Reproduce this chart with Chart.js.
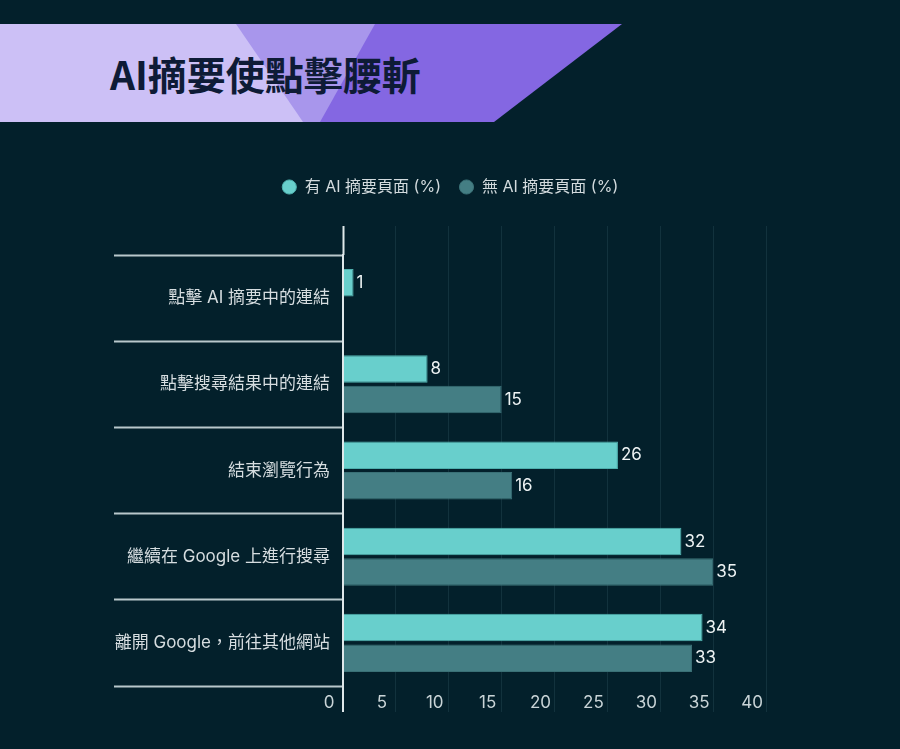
<!DOCTYPE html>
<html>
<head>
<meta charset="utf-8">
<script src="https://cdn.jsdelivr.net/npm/chart.js@4.4.1/dist/chart.umd.min.js"></script>
<style>
    html, body { margin: 0; padding: 0; background: #03202b; }
    #wrap { position: relative; width: 900px; height: 749px; overflow: hidden; }
    .banner { position: absolute; top: 24px; left: 0; width: 622px; height: 98px; }
    .banner div { position: absolute; top: 0; left: 0; width: 622px; height: 98px; }
    .b-dark { background: #8467e2; clip-path: polygon(0 0, 622px 0, 494px 98px, 0 98px); }
    .b-mid { background: #a896ec; clip-path: polygon(0 0, 375px 0, 320px 98px, 0 98px); }
    .b-light { background: #ccc0f6; clip-path: polygon(0 0, 236px 0, 303px 98px, 0 98px); }
    .banner h1 {
        position: absolute; left: 110px; top: 26px; margin: 0;
        font: bold 39px "Noto Sans CJK TC", "Noto Sans", sans-serif;
        color: #0e1b36; letter-spacing: 0; line-height: 46px;
    }
    canvas { position: absolute; top: 0; left: 0; }
</style>
</head>
<body>
<div id="wrap">
    <div class="banner">
        <div class="b-dark"></div>
        <div class="b-mid"></div>
        <div class="b-light"></div>
        <h1>AI摘要使點擊腰斬</h1>
    </div>
    <canvas id="chart" width="900" height="749"></canvas>
</div>
<script>
const categories = ['點擊 AI 摘要中的連結', '點擊搜尋結果中的連結', '結束瀏覽行為', '繼續在 Google 上進行搜尋', '離開 Google，前往其他網站'];
const withAI = [1, 8, 26, 32, 34];
const withoutAI = [null, 15, 16, 35, 33];
const seriesNames = ['有 AI 摘要頁面 (%)', '無 AI 摘要頁面 (%)'];
const xMax = 40;
const xStep = 5;

const fontFamily = 'Inter, "Noto Sans CJK TC", sans-serif';

// value labels at the end of each bar
const valueLabels = {
    id: 'valueLabels',
    afterDatasetsDraw(chart) {
        const ctx = chart.ctx;
        ctx.save();
        ctx.font = '17px ' + fontFamily;
        ctx.fillStyle = '#eef3f4';
        ctx.textAlign = 'left';
        ctx.textBaseline = 'middle';
        chart.data.datasets.forEach((ds, i) => {
            chart.getDatasetMeta(i).data.forEach((bar, j) => {
                if (ds.data[j] == null) return;
                ctx.fillText(ds.data[j], bar.x + 3, bar.y);
            });
        });
        ctx.restore();
    }
};

const zeroColor = (c) => (c.tick && c.tick.value === 0 ? '#dfe8ea' : '#12323d');
const zeroWidth = (c) => (c.tick && c.tick.value === 0 ? 2 : 1);

new Chart(document.getElementById('chart').getContext('2d'), {
    type: 'bar',
    data: {
        labels: categories,
        datasets: [
            {
                label: seriesNames[0],
                data: withAI,
                backgroundColor: '#68cfcc',
                borderColor: '#4fb0ae',
                borderWidth: 1,
                categoryPercentage: 0.71,
                barPercentage: 0.9,
            },
            {
                label: seriesNames[1],
                data: withoutAI,
                backgroundColor: '#447e84',
                borderColor: '#3a7076',
                borderWidth: 1,
                categoryPercentage: 0.71,
                barPercentage: 0.9,
            },
        ],
    },
    options: {
        indexAxis: 'y',
        responsive: false,
        animation: false,
        layout: { padding: { top: 161, left: 0, right: 0, bottom: 0 } },
        plugins: {
            legend: {
                position: 'top',
                labels: {
                    usePointStyle: true,
                    pointStyle: 'circle',
                    boxWidth: 15,
                    boxHeight: 10,
                    padding: 18,
                    color: '#d3dbde',
                    font: { family: fontFamily, size: 16 },
                },
            },
            tooltip: { enabled: false },
        },
        scales: {
            x: {
                position: 'bottom',
                min: 0,
                max: xMax,
                afterFit(s) { s.height = 63; },
                border: { display: false },
                grid: { color: zeroColor, lineWidth: zeroWidth, tickLength: 26, tickColor: zeroColor, tickWidth: zeroWidth },
                ticks: {
                    stepSize: xStep,
                    labelOffset: -14,
                    padding: -19,
                    color: '#c9d4d7',
                    font: { family: fontFamily, size: 17 },
                },
            },
            xTop: {
                axis: 'x',
                position: 'top',
                min: 0,
                max: xMax,
                afterFit(s) { s.height = 50; },
                border: { display: false },
                grid: { drawOnChartArea: false, tickLength: 29, tickColor: zeroColor, tickWidth: zeroWidth },
                ticks: { display: false, stepSize: xStep },
            },
            y: {
                afterFit(s) { s.width = 343; },
                border: { display: true, color: '#dfe8ea', width: 2 },
                grid: { offset: true, drawOnChartArea: false, tickLength: 229, tickColor: '#b9c8cc', tickWidth: 2 },
                ticks: {
                    padding: -216,
                    color: '#d6dde0',
                    font: { family: fontFamily, size: 17 },
                },
            },
            // empty right margin so the legend centres on the whole canvas
            yRight: {
                type: 'linear',
                axis: 'y',
                position: 'right',
                afterFit(s) { s.width = 134; },
                border: { display: false },
                grid: { display: false, drawTicks: false },
                ticks: { display: false },
            },
        },
    },
    plugins: [valueLabels],
});
</script>
</body>
</html>
